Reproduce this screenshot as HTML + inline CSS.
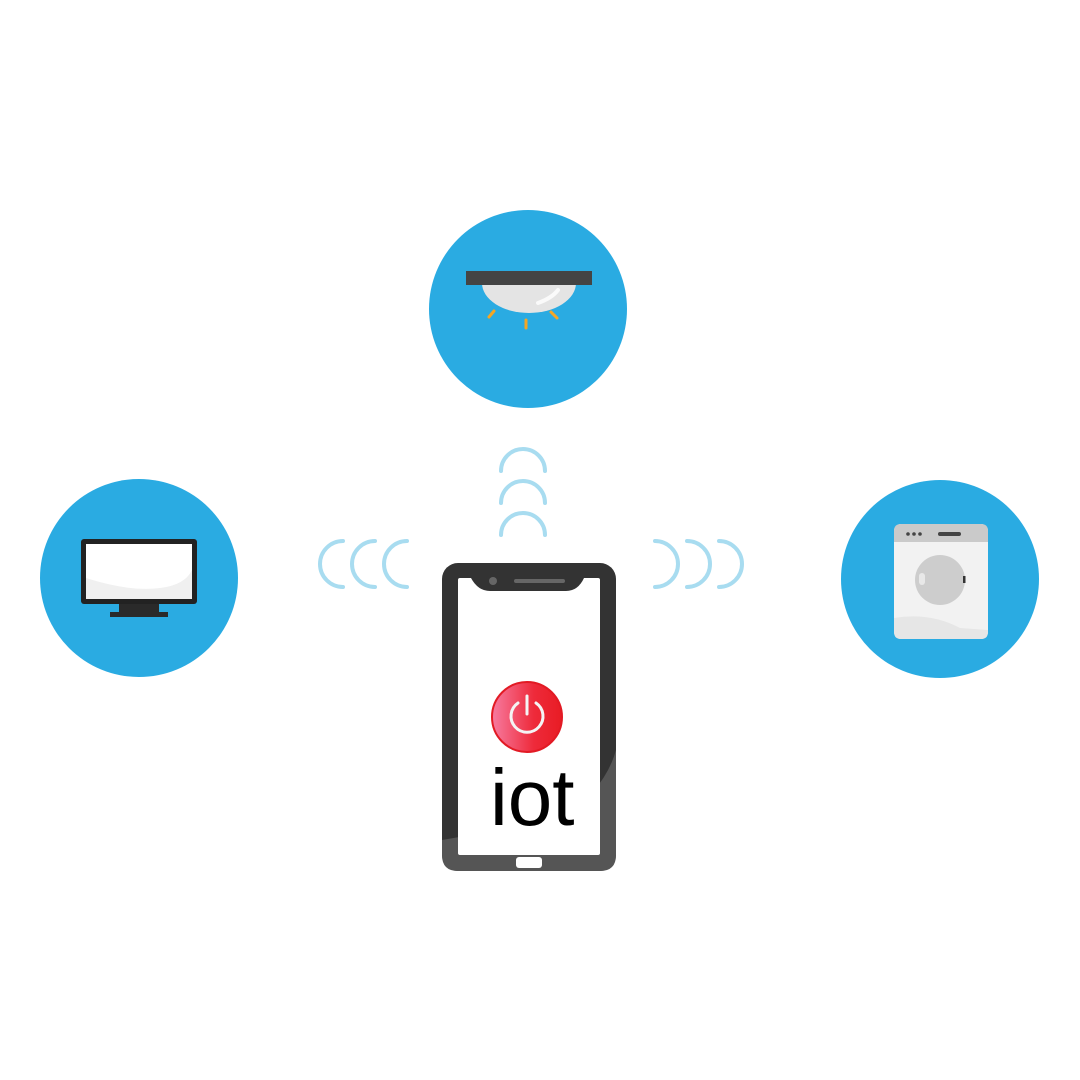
<!DOCTYPE html>
<html><head><style>body{margin:0;background:#fff}svg{display:block}</style></head><body>
<svg width="1080" height="1080" viewBox="0 0 1080 1080" xmlns="http://www.w3.org/2000/svg">
<defs><linearGradient id="pg" x1="0" x2="1"><stop offset="0" stop-color="#f77ba0"/><stop offset="0.6" stop-color="#ee2a3a"/><stop offset="1" stop-color="#e81c24"/></linearGradient></defs>
<circle cx="528" cy="309" r="99" fill="#2aabe2"/>
<circle cx="139" cy="578" r="99" fill="#2aabe2"/>
<circle cx="940" cy="579" r="99" fill="#2aabe2"/>
<!-- lamp -->
<path d="M482 283 A47 30 0 0 0 576 283 Z" fill="#e4e4e4"/>
<path d="M538 303 Q552 298 558 290" stroke="#fff" stroke-width="4" fill="none" stroke-linecap="round" opacity="0.8"/>
<rect x="466" y="271" width="126" height="14" fill="#444"/>
<g stroke="#f5a623" stroke-width="3" stroke-linecap="round"><line x1="489" y1="317" x2="494" y2="311"/><line x1="526" y1="320" x2="526" y2="328"/><line x1="551" y1="312" x2="557" y2="318"/></g>
<!-- tv -->
<rect x="81" y="539" width="116" height="65" rx="3" fill="#222"/>
<rect x="86" y="544" width="106" height="55" fill="#fff"/>
<path d="M86 578 Q130 592 160 588 Q185 585 192 570 L192 599 L86 599Z" fill="#f0f0f0"/>
<rect x="119" y="604" width="40" height="9" fill="#2a2a2a"/>
<rect x="110" y="612" width="58" height="5" fill="#2a2a2a"/>
<!-- washer -->
<rect x="894" y="524" width="94" height="115" rx="7" fill="#f2f2f2"/>
<path d="M894 618 Q930 612 960 628 L988 630 L988 632 Q988 639 981 639 L901 639 Q894 639 894 632Z" fill="#e6e6e6"/>
<path d="M894 531 Q894 524 901 524 L981 524 Q988 524 988 531 L988 542 L894 542Z" fill="#cacaca"/>
<circle cx="908" cy="534" r="1.8" fill="#444"/><circle cx="914" cy="534" r="1.8" fill="#444"/><circle cx="920" cy="534" r="1.8" fill="#444"/>
<rect x="938" y="532" width="23" height="4" rx="2" fill="#444"/>
<circle cx="940" cy="580" r="25" fill="#cdcdcd"/>
<rect x="919" y="573" width="6" height="12" rx="3" fill="#e8e8e8"/>
<rect x="963" y="576" width="2.5" height="7" fill="#333"/>
<!-- wifi arcs -->
<g stroke="#a8dcf0" stroke-width="4" fill="none" stroke-linecap="round">
<path d="M501 471 A22 22 0 0 1 545 471"/><path d="M501 503 A22 22 0 0 1 545 503"/><path d="M501 535 A22 22 0 0 1 545 535"/>
<path d="M343 541 A23 23 0 0 0 343 587"/><path d="M375 541 A23 23 0 0 0 375 587"/><path d="M407 541 A23 23 0 0 0 407 587"/>
<path d="M655 541 A23 23 0 0 1 655 587"/><path d="M687 541 A23 23 0 0 1 687 587"/><path d="M719 541 A23 23 0 0 1 719 587"/>
</g>
<!-- phone -->
<rect x="442" y="563" width="174" height="308" rx="16" fill="#333"/>
<path d="M442 840 Q500 830 560 820 Q605 790 616 750 L616 855 Q616 871 600 871 L458 871 Q442 871 442 855Z" fill="#555"/>
<rect x="458" y="578" width="142" height="277" rx="2" fill="#fff"/>
<path d="M471 578 Q478 591 490 591 L566 591 Q578 591 584 578Z" fill="#333"/>
<circle cx="493" cy="581" r="4" fill="#666"/>
<rect x="514" y="579" width="51" height="4" rx="2" fill="#666"/>
<rect x="516" y="857" width="26" height="11" rx="3" fill="#fff"/>
<circle cx="527" cy="717" r="35" fill="url(#pg)" stroke="#e21a24" stroke-width="2"/>
<path d="M518 703 A16 16 0 1 0 536 703" stroke="#f4f4f4" stroke-width="3" fill="none" stroke-linecap="round"/>
<line x1="527" y1="696" x2="527" y2="714" stroke="#f4f4f4" stroke-width="3" stroke-linecap="round"/>
<text x="490" y="825" font-family="Liberation Sans, sans-serif" font-size="80" fill="#000">iot</text>
</svg>
</body></html>
